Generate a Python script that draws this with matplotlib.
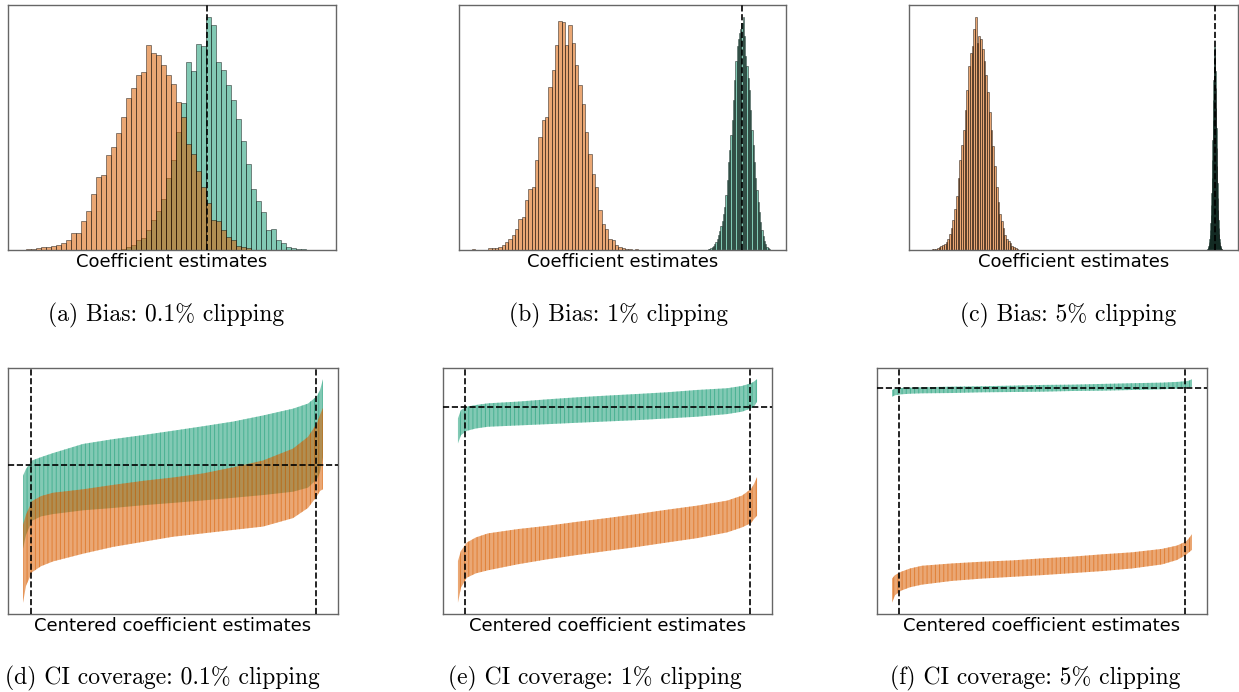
import matplotlib
matplotlib.use("Agg")
import matplotlib.pyplot as plt
import numpy as np

W, H = 1239, 692
GREEN = "#1b9e77"
ORANGE = "#d95f02"
TRUE_COEF = 1.0

# ---------------- histogram data (counts per bin) ----------------
# panel (a): 0.1% clipping
orange_a_start, orange_a_width = 0.6383, 0.010
orange_a_counts = [1, 1, 2, 3, 3, 4, 5, 7, 10, 17, 17, 29, 39, 56, 73, 75, 95, 103, 117,
                   133, 152, 162, 175, 179, 206, 198, 196, 186, 176, 166, 148, 133, 106,
                   96, 79, 63, 47, 30, 29, 20, 13, 10, 4, 3, 2]
green_a_start, green_a_width = 0.8283, 0.010
green_a_counts = [1, 3, 5, 10, 12, 20, 30, 39, 51, 72, 90, 118, 147, 189, 180, 207, 205,
                  234, 226, 189, 181, 165, 150, 131, 109, 86, 61, 49, 38, 20, 21, 10, 7,
                  3, 2, 1, 1]
xlim_a = (0.6026, 1.2586)

# panel (b): 1% clipping
orange_b_start, orange_b_width = 0.4599, 0.006667
orange_b_counts = [1, 0, 0, 0, 0, 2, 2, 2, 3, 5, 8, 11, 15, 21, 31, 33, 50, 61, 63, 90,
                   113, 130, 133, 163, 181, 206, 230, 229, 206, 226, 208, 186, 165, 146,
                   118, 96, 76, 63, 40, 26, 21, 11, 10, 5, 3, 2, 1, 1, 0, 1, 0]
green_b_start, green_b_width = 0.9326, 0.00248
green_b_counts = [1, 1, 2, 3, 4, 6, 8, 11, 15, 19, 24, 29, 36, 43, 55, 70, 88, 100, 115,
                  130, 150, 170, 190, 205, 212, 218, 222, 228, 234, 215, 195, 185, 172,
                  160, 140, 120, 105, 88, 72, 60, 48, 38, 28, 20, 14, 9, 6, 3, 2, 1]
xlim_b = (0.4346, 1.0886)

# panel (c): 5% clipping
orange_c_start, orange_c_width = 0.43334, 0.003467
orange_c_counts = [1, 1, 1, 2, 3, 4, 5, 6, 8, 11, 16, 22, 30, 41, 54, 72, 90, 105, 120,
                   140, 160, 185, 198, 205, 222, 234, 208, 215, 212, 202, 190, 176, 158,
                   138, 120, 104, 84, 63, 48, 36, 29, 22, 15, 11, 9, 7, 4, 3, 2, 1]
green_c_start, green_c_width = 0.983, 0.00068
green_c_counts = [0, 1, 1, 2, 3, 4, 6, 8, 11, 15, 20, 27, 35, 45, 57, 72, 90, 110, 130,
                  150, 170, 185, 197, 205, 203, 195, 180, 162, 142, 122, 102, 84, 67, 52,
                  40, 30, 22, 16, 11, 8, 5, 4, 3, 2, 1, 1, 1, 0, 0, 0]
xlim_c = (0.388, 1.046)

# ---------------- CI coverage data (sorted intervals, centered) ----------------
rank = [0, 0.01, 0.03, 0.06, 0.1, 0.2, 0.3, 0.4, 0.5, 0.6, 0.7, 0.8, 0.9, 0.95, 0.98, 0.99, 1.0]
ci_quantiles = (0.025, 0.975)

green_lo_d = [-0.827, -0.693, -0.553, -0.51, -0.487, -0.45, -0.427, -0.40, -0.377, -0.353,
              -0.327, -0.30, -0.267, -0.227, -0.143, -0.077, 0.073]
green_hi_d = [-0.11, -0.043, 0.04, 0.073, 0.113, 0.203, 0.25, 0.29, 0.333, 0.377, 0.423,
              0.483, 0.55, 0.60, 0.673, 0.733, 0.84]
orange_lo_d = [-1.36, -1.193, -1.06, -1.00, -0.953, -0.877, -0.81, -0.76, -0.71, -0.677,
               -0.643, -0.61, -0.527, -0.427, -0.31, -0.26, -0.243]
orange_hi_d = [-0.593, -0.493, -0.36, -0.31, -0.277, -0.243, -0.20, -0.16, -0.127, -0.087,
               -0.027, 0.04, 0.157, 0.273, 0.407, 0.49, 0.557]

green_lo_e = [-0.36, -0.277, -0.233, -0.21, -0.193, -0.18, -0.167, -0.153, -0.14, -0.127,
              -0.11, -0.093, -0.067, -0.043, -0.01, 0.007, 0.057]
green_hi_e = [-0.11, -0.027, 0.007, 0.023, 0.04, 0.057, 0.08, 0.10, 0.117, 0.133, 0.15,
              0.173, 0.19, 0.213, 0.24, 0.257, 0.28]
orange_lo_e = [-1.943, -1.793, -1.693, -1.65, -1.62, -1.56, -1.51, -1.467, -1.427, -1.387,
               -1.343, -1.30, -1.243, -1.193, -1.15, -1.11, -1.077]
orange_hi_e = [-1.527, -1.427, -1.343, -1.293, -1.253, -1.21, -1.177, -1.137, -1.10, -1.06,
               -1.017, -0.977, -0.927, -0.877, -0.81, -0.76, -0.693]

green_lo_f = [-0.087, -0.073, -0.063, -0.057, -0.053, -0.05, -0.043, -0.04, -0.037, -0.03,
              -0.027, -0.02, -0.013, -0.007, 0, 0.003, 0.013]
green_hi_f = [-0.02, -0.007, 0, 0.003, 0.007, 0.013, 0.017, 0.023, 0.03, 0.033, 0.04, 0.047,
              0.053, 0.06, 0.067, 0.073, 0.087]
orange_lo_f = [-2.127, -2.053, -2.007, -1.973, -1.947, -1.91, -1.887, -1.87, -1.853, -1.833,
               -1.813, -1.787, -1.747, -1.703, -1.653, -1.627, -1.603]
orange_hi_f = [-1.887, -1.853, -1.82, -1.787, -1.76, -1.737, -1.72, -1.707, -1.687, -1.67,
               -1.647, -1.627, -1.593, -1.56, -1.52, -1.487, -1.447]

captions = ["(a) Bias: 0.1% clipping", "(b) Bias: 1% clipping", "(c) Bias: 5% clipping",
            "(d) CI coverage: 0.1% clipping", "(e) CI coverage: 1% clipping",
            "(f) CI coverage: 5% clipping"]

plt.rcParams['hatch.linewidth'] = 0.7

fig = plt.figure(figsize=(W / 100, H / 100), dpi=100)


def px_axes(x0, y0, x1, y1):
    ax = fig.add_axes([x0 / W, 1 - y1 / H, (x1 - x0) / W, (y1 - y0) / H])
    ax.set_xticks([])
    ax.set_yticks([])
    for s in ax.spines.values():
        s.set_color('0.4')
        s.set_linewidth(1.0)
    return ax


def hist(ax, start, width, counts, color):
    counts = np.asarray(counts, float)
    edges = start + width * np.arange(len(counts))
    ax.bar(edges, counts, width=width, align='edge', color=color, edgecolor='black',
           linewidth=0.55, alpha=0.55)


top = [(8, 5, 336, 250), (459, 5, 786, 250), (909, 5, 1238, 250)]
hists = [
    (orange_a_start, orange_a_width, orange_a_counts, green_a_start, green_a_width, green_a_counts, xlim_a),
    (orange_b_start, orange_b_width, orange_b_counts, green_b_start, green_b_width, green_b_counts, xlim_b),
    (orange_c_start, orange_c_width, orange_c_counts, green_c_start, green_c_width, green_c_counts, xlim_c),
]
for rect, (os_, ow, oc, gs, gw, gc, xl) in zip(top, hists):
    ax = px_axes(*rect)
    hist(ax, gs, gw, gc, GREEN)
    hist(ax, os_, ow, oc, ORANGE)
    ax.axvline(TRUE_COEF, color='black', ls='--', lw=1.2, zorder=5)
    ax.set_xlim(*xl)
    ax.set_xlabel("Coefficient estimates", fontsize=13, labelpad=2.5)

bottom = [(8, 368, 338, 614), (443, 368, 772, 614), (877, 368, 1207, 614)]
cis = [
    (green_lo_d, green_hi_d, orange_lo_d, orange_hi_d),
    (green_lo_e, green_hi_e, orange_lo_e, orange_hi_e),
    (green_lo_f, green_hi_f, orange_lo_f, orange_hi_f),
]
for rect, (glo, ghi, olo, ohi) in zip(bottom, cis):
    ax = px_axes(*rect)
    for lo, hi, c in [(glo, ghi, GREEN), (olo, ohi, ORANGE)]:
        ax.fill_between(rank, lo, hi, facecolor=c, alpha=0.55, edgecolor=c,
                        hatch='||||', linewidth=0)
    for q in ci_quantiles:
        ax.axvline(q, color='black', ls='--', lw=1.2, zorder=5)
    ax.axhline(0, color='black', ls='--', lw=1.2, zorder=5)
    ax.set_xlabel("Centered coefficient estimates", fontsize=13, labelpad=2.5)

cap_pos = [(166.5, 321), (618.5, 321), (1068, 321), (162.5, 684), (595, 684), (1035.5, 684)]
for (cx, cy), s in zip(cap_pos, captions):
    fig.text(cx / W, 1 - cy / H, s, ha='center', va='baseline', fontfamily='cmr10',
             fontsize=17)

fig.savefig("out.png", dpi=100)
